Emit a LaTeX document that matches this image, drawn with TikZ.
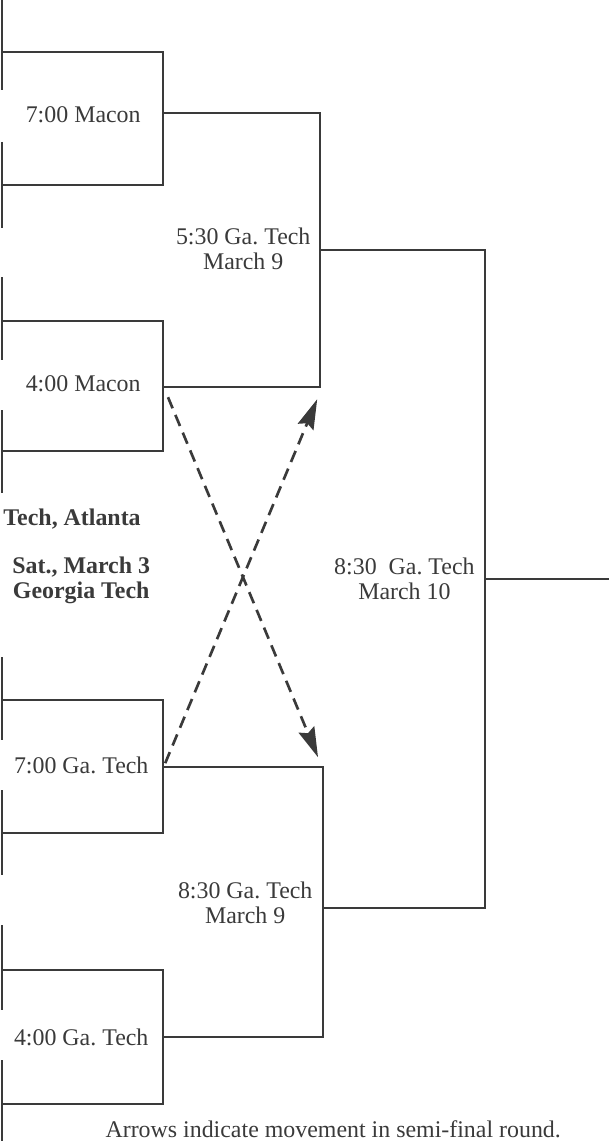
\documentclass[tikz,border=0pt]{standalone}
\usepackage{fontspec}
\setmainfont{Liberation Serif}
\usetikzlibrary{arrows.meta}
\definecolor{ink}{HTML}{3A3A3A}

\begin{document}
\begin{tikzpicture}[x=1cm,y=1cm,
    game/.style={text=ink,font=\fontsize{17}{17.8}\selectfont,align=center,inner sep=0pt},
    venue/.style={game,font=\fontsize{17}{17.8}\selectfont\bfseries},
    move/.style={draw=ink,line width=1.9pt,dash pattern=on 0.3cm off 0.18cm,
      -{Stealth[length=0.75cm,width=0.42cm,inset=0.1cm]}}]
  \path[use as bounding box] (0,-28.525) rectangle (15.225,0);

  \begin{scope}[draw=ink,line width=1.6pt]
    % First-round brackets, cut off at the left edge.
    \foreach \aa/\bb in {0/2.25,3.55/5.7,6.93/9.0,10.25/12.33,16.43/18.5,19.75/21.88,23.13/25.25,26.5/28.525}{
      \draw (0.05,-\aa) -- (0.05,-\bb);
    }
    % Quarter-finals.
    \foreach \tp/\bt in {1.3/4.63,8.03/11.28,17.5/20.83,24.25/27.6}{
      \draw (0.05,-\tp) -- (4.08,-\tp) -- (4.08,-\bt) -- (0.05,-\bt);
    }
    % Semi-finals.
    \draw (4.08,-2.83) -- (8.0,-2.83) -- (8.0,-9.68) -- (4.08,-9.68);
    \draw (4.08,-19.18) -- (8.08,-19.18) -- (8.08,-25.93) -- (4.08,-25.93);
    % Final.
    \draw (8.0,-6.25) -- (12.13,-6.25) -- (12.13,-22.7) -- (8.08,-22.7);
    \draw (12.13,-14.48) -- (15.225,-14.48);
  \end{scope}

  \node[game] (maconlate) at (2.08,-2.88) {7:00 Macon};
  \node[game] (maconearly) at (2.08,-9.6) {4:00 Macon};
  \node[game] (techlate) at (2.03,-19.13) {7:00 Ga.\ Tech};
  \node[game] (techearly) at (2.03,-25.93) {4:00 Ga.\ Tech};
  \node[game] (semitop) at (6.08,-6.21) {5:30 Ga.\ Tech\\March 9};
  \node[game] (semibot) at (6.13,-22.56) {8:30 Ga.\ Tech\\March 9};
  \node[game] (final) at (10.11,-14.46) {8:30~ Ga.\ Tech\\March 10};
  \node[venue,anchor=base west] (site) at (0.08,-13.13) {Tech, Atlanta};
  \node[venue] (opening) at (2.03,-14.5) {Sat., March 3\\Georgia Tech};
  \node[game] (note) at (8.33,-28.22) {Arrows indicate movement in semi-final round.};

  % Semi-final moves.
  \coordinate (frommacon) at (4.2,-9.93);
  \coordinate (intobot) at (7.95,-18.93);
  \coordinate (fromtech) at (4.13,-19.08);
  \coordinate (intotop) at (7.93,-9.98);
  \draw[move] (frommacon) -- (intobot);
  \draw[move] (fromtech) -- (intotop);
\end{tikzpicture}
\end{document}
